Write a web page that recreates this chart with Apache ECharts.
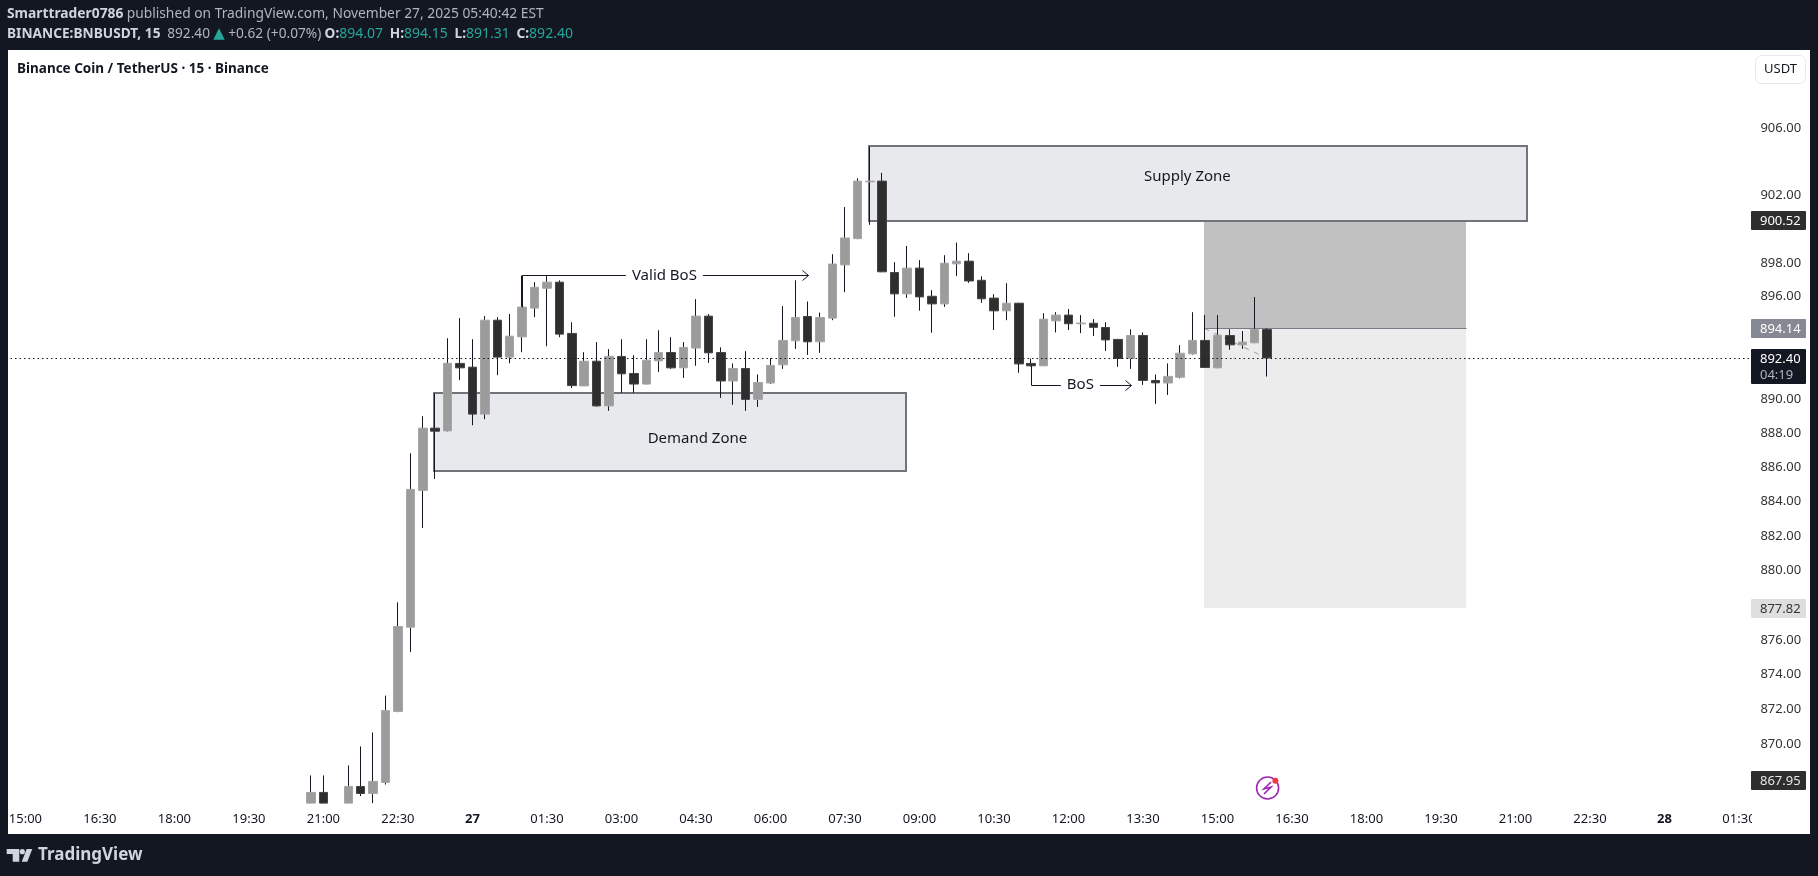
<!DOCTYPE html>
<html>
<head>
<meta charset="utf-8">
<title>BNBUSDT 15</title>
<script src="https://cdn.jsdelivr.net/npm/echarts@6/dist/echarts.min.js"></script>
<style>
html, body { margin: 0; padding: 0; background: #131722; }
#chart { width: 1818px; height: 876px; }
</style>
</head>
<body>
<div id="chart"></div>
<script>
"use strict";

// candles start at this slot of the time axis
var firstSlot = 25;
var opens = [866.65, 867.26, null, 866.65, 867.6, 867.2, 867.83, 871.89, 876.74, 884.66, 888.29, 888.13, 892.08, 891.86, 889.11, 894.62, 892.45, 893.64, 895.33, 896.5, 896.86, 893.84, 890.76, 892.21, 889.59, 892.49, 891.49, 890.87, 892.23, 892.72, 891.82, 892.98, 894.86, 892.72, 891.05, 891.78, 889.97, 890.93, 892.0, 893.41, 894.84, 893.35, 894.74, 897.88, 899.43, 902.8, 902.84, 897.43, 896.17, 897.69, 896.03, 895.58, 897.94, 898.1, 896.97, 895.92, 895.17, 895.62, 892.08, 891.94, 894.58, 894.92, 894.41, 894.44, 894.19, 893.49, 892.37, 893.72, 891.08, 890.93, 891.27, 892.64, 893.43, 891.82, 893.72, 893.17, 893.29, 894.07];
var closes = [867.26, 866.65, null, 867.6, 867.2, 867.89, 871.94, 876.78, 884.72, 888.29, 888.11, 892.09, 891.82, 889.11, 894.62, 892.45, 893.68, 895.39, 896.56, 896.86, 893.8, 890.78, 892.21, 889.59, 892.49, 891.47, 890.87, 892.27, 892.72, 891.82, 893.02, 894.86, 892.7, 891.05, 891.78, 889.97, 890.96, 891.96, 893.43, 894.78, 893.35, 894.78, 897.93, 899.47, 902.84, 902.84, 897.47, 896.17, 897.69, 895.99, 895.58, 897.98, 898.1, 896.93, 895.88, 895.17, 895.62, 892.05, 891.94, 894.68, 894.92, 894.41, 894.45, 894.2, 893.46, 892.37, 893.72, 891.08, 890.94, 891.32, 892.68, 893.43, 891.84, 893.74, 893.17, 893.33, 894.08, 892.4];
var lows = [866.65, 866.65, null, 866.65, 867.05, 866.65, 867.71, 871.85, 875.3, 882.48, 885.33, 888.1, 891.1, 888.46, 888.81, 891.39, 892.09, 892.74, 894.8, 893.09, 893.62, 890.64, 890.76, 889.55, 889.3, 890.35, 890.35, 890.85, 891.58, 891.76, 891.23, 891.94, 892.11, 890.06, 889.65, 889.3, 889.53, 890.87, 891.76, 892.93, 892.58, 892.7, 894.62, 896.27, 899.4, 900.25, 897.45, 894.82, 895.93, 895.18, 893.88, 895.4, 897.23, 896.82, 895.64, 894.04, 894.62, 891.53, 891.9, 891.92, 893.9, 894.04, 893.86, 893.69, 892.81, 891.88, 891.76, 890.82, 889.71, 890.23, 891.2, 892.6, 891.82, 891.8, 892.88, 892.93, 893.27, 891.31];
var highs = [868.23, 868.23, null, 868.8, 869.89, 870.69, 872.8, 878.17, 886.82, 888.99, 890.33, 893.56, 894.74, 893.5, 894.86, 894.8, 894.98, 897.26, 896.86, 897.26, 896.97, 894.5, 892.74, 893.33, 892.92, 893.5, 892.56, 893.5, 894.03, 893.62, 893.33, 895.86, 894.98, 893.02, 892.08, 892.8, 891.43, 892.39, 895.45, 896.97, 895.72, 895.07, 898.51, 901.3, 903.01, 904.9, 903.33, 898.04, 899.0, 898.16, 896.39, 898.45, 899.2, 898.57, 897.2, 896.15, 896.8, 895.64, 892.37, 895.03, 895.09, 895.28, 894.92, 894.68, 894.5, 893.49, 894.08, 893.9, 891.43, 892.08, 893.15, 895.09, 894.92, 894.92, 894.09, 893.98, 895.98, 894.15];

var priceTicks = [906, 902, 898, 896, 890, 888, 886, 884, 882, 880, 876, 874, 872, 870];
var priceMin = 866.6, priceMax = 910.66;

// price scale tags
var tagPrices = [900.52, 894.14, 892.40, 877.82, 867.95];
var tagTexts = ["900.52", "894.14", "892.40", "877.82", "867.95"];
var lastPrice = 892.40;

// drawings, [left slot, right slot, low price, high price]
var demandZone = [34.88, 72.87, 885.77, 890.35];
var supplyZone = [69.92, 122.93, 900.52, 904.95];
var targetZone = [96.92, 118.05, 894.14, 900.52];
var stopZone = [96.92, 118.05, 877.82, 894.14];
// [slot, price]
var validBos = [[42, 895.39], [42, 897.26], [65, 897.26]];
var bos = [[83, 892.0], [83, 890.84], [91, 890.84]];
var tradePath = [[96.92, 894.14], [102, 892.37]];
// [text, slot, price]
var drawingLabels = [
    ["Demand Zone", 56.12, 887.66],
    ["Supply Zone", 95.58, 903.1],
    ["Valid BoS", 53.46, 897.26],
    ["BoS", 86.96, 890.84]
];

var FONT = '"Noto Sans", sans-serif';
var DARK = "#131722";

function buildCategories() {
    var cats = [];
    for (var k = 0; k < 142; k++) {
        var mins = 14 * 60 + 30 + k * 15;
        var m = mins % 1440;
        var hh = Math.floor(m / 60), mm = m % 60;
        var text = (hh < 10 ? "0" : "") + hh + ":" + (mm < 10 ? "0" : "") + mm;
        if (m === 0) { text = mins < 2880 ? "27" : "28"; }
        cats.push(text);
    }
    return cats;
}

function padded(rowFn) {
    var rows = [];
    for (var k = 0; k < firstSlot; k++) { rows.push(["-", "-", "-", "-"]); }
    for (var i = 0; i < opens.length; i++) {
        rows.push(opens[i] === null ? ["-", "-", "-", "-"] : rowFn(i));
    }
    return rows;
}

var wickData = padded(function (i) { return [opens[i], closes[i], lows[i], highs[i]]; });
var bodyData = padded(function (i) {
    return [opens[i], closes[i], Math.min(opens[i], closes[i]), Math.max(opens[i], closes[i])];
});

// the category axis rounds to whole slots, so go between the two neighbours
function slotPoint(api, slot, price) {
    var a = api.coord([Math.floor(slot), price]);
    var b = api.coord([Math.ceil(slot), price]);
    return [a[0] + (b[0] - a[0]) * (slot - Math.floor(slot)), a[1]];
}

function zoneSeries(zones, fills, z) {
    return {
        type: "custom",
        z: z,
        silent: true,
        data: zones.map(function (r) { return [0, r[2]]; }),
        renderItem: function (params, api) {
            var r = zones[params.dataIndex];
            var a = slotPoint(api, r[0], r[3]), b = slotPoint(api, r[1], r[2]);
            var f = fills[params.dataIndex];
            return {
                type: "rect",
                shape: { x: Math.round(a[0]), y: Math.round(a[1]), width: Math.round(b[0] - a[0]), height: Math.round(b[1] - a[1]) },
                style: { fill: f.fill, stroke: f.stroke || null, lineWidth: f.lineWidth || 0 }
            };
        }
    };
}

function pathSeries(path, style, z, arrow) {
    return {
        type: "custom",
        z: z,
        silent: true,
        data: [[0, path[0][1]]],
        renderItem: function (params, api) {
            var pts = path.map(function (p) {
                var c = slotPoint(api, p[0], p[1]);
                return [Math.round(c[0]) + 0.5, Math.round(c[1]) + 0.5];
            });
            var tip = pts[pts.length - 1];
            var children = [{ type: "polyline", shape: { points: pts }, style: style }];
            if (arrow) {
                children.push({
                    type: "polyline",
                    shape: { points: [[tip[0] - 6, tip[1] - 5], tip, [tip[0] - 6, tip[1] + 5]] },
                    style: style
                });
            }
            return { type: "group", children: children };
        }
    };
}

var lineStyle = { stroke: DARK, lineWidth: 1, fill: null };

var series = [
    zoneSeries([targetZone, stopZone], [{ fill: "#c1c1c1" }, { fill: "#ececec" }], 1),
    zoneSeries([demandZone, supplyZone], [
        { fill: "#e8e9ed", stroke: "#72747c", lineWidth: 2 },
        { fill: "#e8e9ed", stroke: "#72747c", lineWidth: 2 }
    ], 1),
    pathSeries([[targetZone[0], 894.14], [targetZone[1], 894.14]], { stroke: "#787b86", lineWidth: 1, fill: null }, 1, false),
    pathSeries(tradePath, { stroke: "#9a9ca5", lineWidth: 1, lineDash: [5, 6], fill: null }, 1, false),
    {
        type: "candlestick",
        z: 2,
        silent: true,
        barWidth: 1,
        data: wickData,
        itemStyle: { color: DARK, color0: DARK, borderColor: DARK, borderColor0: DARK, borderWidth: 1 }
    },
    {
        type: "candlestick",
        z: 3,
        silent: true,
        barWidth: 9,
        data: bodyData,
        itemStyle: { color: "#9c9c9c", color0: "#2e2e2e", borderColor: "#a6a6a6", borderColor0: "#454545", borderWidth: 1 }
    },
    pathSeries([[0, lastPrice], [141, lastPrice]], { stroke: DARK, lineWidth: 1, lineDash: [1.5, 3], fill: null }, 4, false),
    pathSeries(validBos, lineStyle, 4, true),
    pathSeries(bos, lineStyle, 4, true),
    {
        type: "custom",
        z: 5,
        silent: true,
        data: drawingLabels.map(function (r) { return [0, r[2]]; }),
        renderItem: function (params, api) {
            var r = drawingLabels[params.dataIndex];
            var c = slotPoint(api, r[1], r[2]);
            var boxed = params.dataIndex >= 2;
            return {
                type: "text",
                style: {
                    text: r[0], x: c[0], y: c[1], align: "center", verticalAlign: "middle",
                    fill: DARK, font: '15px ' + FONT,
                    backgroundColor: boxed ? "#ffffff" : null,
                    padding: boxed ? [0, 6] : 0
                }
            };
        }
    },
    {
        type: "custom",
        z: 10,
        silent: true,
        data: tagPrices.map(function (p) { return [0, p]; }),
        renderItem: function (params, api) {
            var i = params.dataIndex;
            var y = Math.round(api.coord([0, api.value(1)])[1]);
            var fills = ["#2e2e2e", "#868993", DARK, "#dedede", "#2e2e2e"];
            var inks = ["#ffffff", "#ffffff", "#ffffff", "#333333", "#e6e6e6"];
            var h = i === 2 ? 35 : 19;
            var children = [
                { type: "rect", shape: { x: 1751, y: y - 9, width: 55, height: h, r: 1 }, style: { fill: fills[i] } },
                { type: "text", style: { text: tagTexts[i], x: 1760, y: y + 1, verticalAlign: "middle", fill: inks[i], font: '13px ' + FONT } }
            ];
            if (i === 2) {
                children.push({ type: "text", style: { text: "04:19", x: 1760, y: y + 17.5, verticalAlign: "middle", fill: "#b2b5be", font: '13px ' + FONT } });
            }
            return { type: "group", children: children };
        }
    }
];

var logoFill = "#d1d4dc";
var graphics = [
    { type: "rect", z: -1, shape: { x: 8, y: 50, width: 1802, height: 784 }, style: { fill: "#ffffff" } },
    { type: "rect", z: 20, shape: { x: 0, y: 50, width: 8, height: 784 }, style: { fill: DARK } },
    { type: "rect", z: 20, shape: { x: 1752, y: 806, width: 58, height: 28 }, style: { fill: "#ffffff" } },
    {
        type: "text", z: 20, x: 7, y: 14,
        style: {
            text: "{b|Smarttrader0786} {n|published on TradingView.com, November 27, 2025 05:40:42 EST}",
            verticalAlign: "middle",
            rich: {
                b: { fill: "#d1d4dc", font: 'bold 13.8px ' + FONT },
                n: { fill: "#b2b5be", font: '13.8px ' + FONT }
            }
        }
    },
    {
        type: "text", z: 20, x: 7, y: 34,
        style: {
            text: "{b|BINANCE:BNBUSDT, 15}  {n|892.40} {a|▲} {n|+0.62 (+0.07%)} {b|O:}{t|894.07}  {b|H:}{t|894.15}  {b|L:}{t|891.31}  {b|C:}{t|892.40}",
            verticalAlign: "middle",
            rich: {
                b: { fill: "#d1d4dc", font: 'bold 13.7px ' + FONT },
                n: { fill: "#b2b5be", font: '13.7px ' + FONT },
                t: { fill: "#26a69a", font: '14px ' + FONT },
                a: { fill: "#26a69a", font: '15px "DejaVu Sans"' }
            }
        }
    },
    // currency button
    { type: "rect", z: 20, shape: { x: 1755.5, y: 55.5, width: 50, height: 28, r: 6 }, style: { fill: "#ffffff", stroke: "#e8e8e8", lineWidth: 1 } },
    { type: "text", z: 21, x: 1780.5, y: 69.5, style: { text: "USDT", align: "center", verticalAlign: "middle", fill: DARK, font: '13px ' + FONT } },
    // news bolt
    { type: "circle", z: 20, shape: { cx: 1267.6, cy: 788, r: 11 }, style: { fill: "#ffffff", stroke: "#9c27b0", lineWidth: 1.6 } },
    { type: "polyline", z: 21, shape: { points: [[1271, 782], [1264, 789], [1271, 787], [1264, 794]] }, style: { fill: null, stroke: "#9c27b0", lineWidth: 1.6 } },
    { type: "circle", z: 21, shape: { cx: 1275.4, cy: 780.7, r: 3 }, style: { fill: "#f23645" } },
    // logo
    { type: "polygon", z: 20, shape: { points: [[6.7, 849], [19.3, 849], [19.3, 861.7], [12.7, 861.7], [12.7, 854], [6.7, 854]] }, style: { fill: logoFill } },
    { type: "circle", z: 20, shape: { cx: 22.3, cy: 851.7, r: 2.6 }, style: { fill: logoFill } },
    { type: "polygon", z: 20, shape: { points: [[26.7, 849], [32.3, 849], [27.3, 861.7], [21.7, 861.7]] }, style: { fill: logoFill } },
    { type: "text", z: 20, x: 38, y: 855, style: { text: "TradingView", verticalAlign: "middle", fill: logoFill, font: 'bold 17px ' + FONT } }
];

var chart = echarts.init(document.getElementById("chart"));
chart.setOption({
    animation: false,
    backgroundColor: DARK,
    title: {
        text: "Binance Coin / TetherUS · 15 · Binance",
        left: 17,
        top: 61,
        padding: 0,
        textStyle: { color: DARK, fontFamily: FONT, fontWeight: "bold", fontSize: 13.5, lineHeight: 16 }
    },
    grid: { left: 0.6, top: 50, width: 1750.8, height: 754, containLabel: false },
    xAxis: {
        type: "category",
        data: buildCategories(),
        boundaryGap: false,
        axisLine: { show: false },
        axisTick: { show: false },
        splitLine: { show: false },
        axisLabel: {
            margin: 9,
            color: DARK,
            fontFamily: FONT,
            fontSize: 13,
            hideOverlap: false,
            interval: function (index) { return index >= 2 && (index - 2) % 6 === 0; },
            formatter: function (value) {
                return value.length === 2 ? "{d|" + value + "}" : value;
            },
            rich: { d: { fontFamily: FONT, fontSize: 13, fontWeight: "bold", color: DARK } }
        }
    },
    yAxis: {
        type: "log",
        position: "right",
        min: priceMin,
        max: priceMax,
        axisLine: { show: false },
        axisTick: { show: false },
        splitLine: { show: false },
        minorTick: { show: false },
        axisLabel: {
            customValues: priceTicks,
            margin: 9,
            padding: [4, 0, 0, 0],
            color: "#333333",
            fontFamily: FONT,
            fontSize: 13,
            formatter: function (value) { return Number(value).toFixed(2); }
        }
    },
    series: series,
    graphic: graphics
});
</script>
</body>
</html>
